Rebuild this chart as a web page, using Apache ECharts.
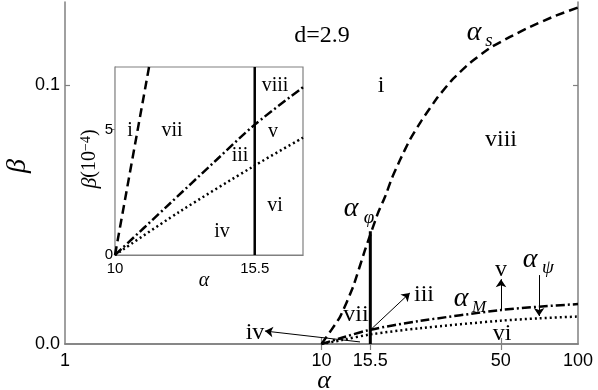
<!DOCTYPE html>
<html><head><meta charset="utf-8">
<script src="https://cdn.jsdelivr.net/npm/echarts@6/dist/echarts.min.js"></script>
<style>html,body{margin:0;padding:0;background:#fff}#c{width:598px;height:390px}</style>
</head><body><div id="c"></div>
<script>
// ---- main plot data ----
const alphaSX = [10, 11.8, 13.27, 14.78, 15.73, 16.61, 17.69, 18.83, 20.23, 22.1, 24.65, 28.46, 32.56, 37.93, 45.4, 54.3, 65.0, 79.9, 100];
const alphaSY = [0, 0.0104, 0.022, 0.0363, 0.044, 0.0506, 0.0568, 0.0641, 0.071, 0.0788, 0.0865, 0.0954, 0.1023, 0.1085, 0.1143, 0.1185, 0.1224, 0.1263, 0.1299];
const alphaMX = [10, 12, 15.5, 24.2, 50, 70.5, 100];
const alphaMY = [0, 0.0024, 0.0055, 0.0089, 0.0131, 0.0144, 0.0154];
const alphaPsiX = [10, 12, 15.5, 24.2, 50, 70.5, 100];
const alphaPsiY = [0, 0.0015, 0.0037, 0.0061, 0.0090, 0.0099, 0.0106];
const phiLineX = [15.5, 15.5];
const phiLineY = [0, 0.0435];
const mainXTicks = [10, 15.5, 50];
const mainXLabels = [1, 10, 15.5, 50, 100];
const mainYTicks = [0.1];
const mainYLabels = [0, 0.1];
// arrows: [fromX, fromY, toX, toY]
const arrowIV = [14.13, 0.0008, 6.02, 0.005];
const arrowIII = [15.5, 0.0054, 22.1, 0.0197];
const arrowV = [50.1, 0.0131, 50.1, 0.025];
const arrowPsi = [70.5, 0.0266, 70.5, 0.0108];
// ---- inset data ----
const insetSX = [10, 11.34];
const insetSY = [0, 7.5];
const insetMX = [10, 12, 14, 15.5, 17.4];
const insetMY = [0, 1.9, 3.8, 5.2, 6.69];
const insetPsiX = [10, 12.5, 15.5, 17.4];
const insetPsiY = [0, 1.7, 3.57, 4.68];
const insetLineX = [15.5, 15.5];
const insetLineY = [0, 7.5];
const insetXLabels = [10, 15.5];
const insetYLabels = [0, 5];

const zip = (xs, ys) => xs.map((x, i) => [x, ys[i]]);
const AX = '#808080';
const SERIF = '"Liberation Serif", "Times New Roman", serif';
const SANS = '"Liberation Sans", Arial, sans-serif';

function curve(name, xs, ys, dash, xi, yi, w, sm) {
  return { name, type: 'line', xAxisIndex: xi, yAxisIndex: yi, data: zip(xs, ys),
    showSymbol: false, symbol: 'none', smooth: sm === undefined ? 0.3 : sm, clip: true, z: 3,
    lineStyle: { color: '#000', width: w || 2.5, type: dash, cap: 'butt' } };
}
function arrow(a) {
  return { coords: [[a[0], a[1]], [a[2], a[3]]] };
}

const chart = echarts.init(document.getElementById('c'), null, { renderer: 'canvas' });

function txt(text, x, y, size, opts) {
  opts = opts || {};
  return { type: 'text', x, y, rotation: opts.rot || 0, z: 100,
    style: { text, fontSize: size, fontFamily: opts.family || SERIF, fontStyle: opts.italic ? 'italic' : 'normal',
      fill: '#000', align: opts.align || 'center', verticalAlign: 'middle' } };
}

const graphics = [
  txt('d=2.9', 322, 36, 24),
  txt('i', 381, 86, 24),
  txt('viii', 501, 140, 24),
  txt('vii', 356, 315, 24),
  txt('iii', 424, 295, 24),
  txt('v', 501, 270, 24),
  txt('vi', 502, 334, 24),
  txt('iv', 255, 333, 24),
  txt('α', 474, 33, 28, { italic: true }), txt('s', 489, 41, 19, { italic: true }),
  txt('α', 351, 209, 28, { italic: true }), txt('φ', 369, 218, 19, { italic: true }),
  txt('α', 461, 299, 28, { italic: true }), txt('M', 479, 308, 17, { italic: true }),
  txt('α', 530, 260, 28, { italic: true }), txt('ψ', 548, 268, 19, { italic: true }),
  txt('β', 18, 166, 28, { italic: true, rot: Math.PI / 2 }),
  txt('α', 324, 381, 26, { italic: true }),
  // inset labels
  txt('i', 130, 131, 20), txt('vii', 172, 131, 20), txt('viii', 275, 86, 20), txt('v', 273, 132, 20),
  txt('iii', 240, 156, 20), txt('vi', 275, 206, 20), txt('iv', 222, 232, 20),
  txt('α', 204, 281, 20, { italic: true }),
  { type: 'text', x: 90, y: 159, rotation: Math.PI / 2, z: 100,
    style: { text: '{b|β}(10{s|−4})', fontSize: 20, fontFamily: SERIF, fill: '#000', align: 'center', verticalAlign: 'middle',
      rich: { b: { fontStyle: 'italic', fontSize: 22, fontFamily: SERIF }, s: { fontSize: 14, fontFamily: SERIF, verticalAlign: 'top', padding: [0, 0, 8, 0] } } } }
];

const option = {
  animation: false,
  backgroundColor: '#fff',
  grid: [
    { left: 65, top: 2, width: 513, height: 342, show: false },
    { left: 115, top: 67, width: 188, height: 188, show: true, backgroundColor: '#fff', borderColor: AX, borderWidth: 1.2, z: 1 }
  ],
  xAxis: [
    { type: 'log', gridIndex: 0, logBase: 10, min: 1, max: 100, position: 'bottom',
      axisLine: { lineStyle: { color: AX, width: 1.5 } },
      axisTick: { show: true, inside: true, length: 6, customValues: mainXTicks, lineStyle: { color: AX, width: 1.2 } },
      axisLabel: { customValues: mainXLabels, margin: 8, fontSize: 18, fontFamily: SANS, color: '#000', formatter: v => String(+v.toFixed(1)) },
      splitLine: { show: false }, minorTick: { show: false } },
    { type: 'log', gridIndex: 0, logBase: 10, min: 1, max: 100, position: 'top',
      axisLine: { lineStyle: { color: AX, width: 1.5 } },
      axisTick: { show: true, inside: true, length: 6, customValues: mainXTicks, lineStyle: { color: AX, width: 1.2 } },
      axisLabel: { show: false }, splitLine: { show: false } },
    { type: 'value', gridIndex: 1, min: 10, max: 17.4, position: 'bottom',
      axisLine: { lineStyle: { color: AX, width: 1.2 } },
      axisTick: { show: false },
      axisLabel: { customValues: insetXLabels, margin: 6, fontSize: 15, fontFamily: SANS, color: '#000', formatter: v => String(v) },
      splitLine: { show: false } }
  ],
  yAxis: [
    { type: 'value', gridIndex: 0, min: 0, max: 0.132, position: 'left',
      axisLine: { show: true, lineStyle: { color: AX, width: 1.5 } },
      axisTick: { show: true, inside: true, length: 5, customValues: mainYTicks, lineStyle: { color: AX, width: 1.2 } },
      axisLabel: { customValues: mainYLabels, margin: 5, fontSize: 18, fontFamily: SANS, color: '#000', formatter: v => v.toFixed(1) },
      splitLine: { show: false } },
    { type: 'value', gridIndex: 0, min: 0, max: 0.132, position: 'right',
      axisLine: { show: true, lineStyle: { color: AX, width: 1.5 } },
      axisTick: { show: true, inside: true, length: 5, customValues: mainYTicks, lineStyle: { color: AX, width: 1.2 } },
      axisLabel: { show: false }, splitLine: { show: false } },
    { type: 'value', gridIndex: 1, min: 0, max: 7.5, position: 'left',
      axisLine: { show: true, lineStyle: { color: AX, width: 1.2 } },
      axisTick: { show: true, inside: false, length: 4, customValues: [5], lineStyle: { color: AX, width: 1 } },
      axisLabel: { customValues: insetYLabels, margin: 2, fontSize: 15, fontFamily: SANS, color: '#000', formatter: v => String(v) },
      splitLine: { show: false } }
  ],
  series: [
    curve('alpha_s', alphaSX, alphaSY, [9, 5], 0, 0, 2.5, 0.15),
    curve('alpha_M', alphaMX, alphaMY, [9, 3, 2, 3], 0, 0),
    curve('alpha_psi', alphaPsiX, alphaPsiY, [2, 3], 0, 0),
    { type: 'line', xAxisIndex: 0, yAxisIndex: 0, data: zip(phiLineX, phiLineY), symbol: 'none', z: 3,
      lineStyle: { color: '#000', width: 3 } },
    { type: 'lines', coordinateSystem: 'cartesian2d', xAxisIndex: 0, yAxisIndex: 0, z: 4,
      symbol: ['none', 'arrow'], symbolSize: 8,
      lineStyle: { color: '#000', width: 1, opacity: 1, curveness: 0 },
      data: [arrow(arrowIV), arrow(arrowIII), arrow(arrowV), arrow(arrowPsi)] },
    curve('inset_s', insetSX, insetSY, [9, 5], 2, 2, 2.5),
    curve('inset_M', insetMX, insetMY, [9, 3, 2, 3], 2, 2, 2.5),
    curve('inset_psi', insetPsiX, insetPsiY, [2, 3], 2, 2, 2.5),
    { type: 'line', xAxisIndex: 2, yAxisIndex: 2, data: zip(insetLineX, insetLineY), symbol: 'none', z: 3,
      lineStyle: { color: '#000', width: 2.5 } }
  ],
  graphic: graphics
};
chart.setOption(option);
</script></body></html>
